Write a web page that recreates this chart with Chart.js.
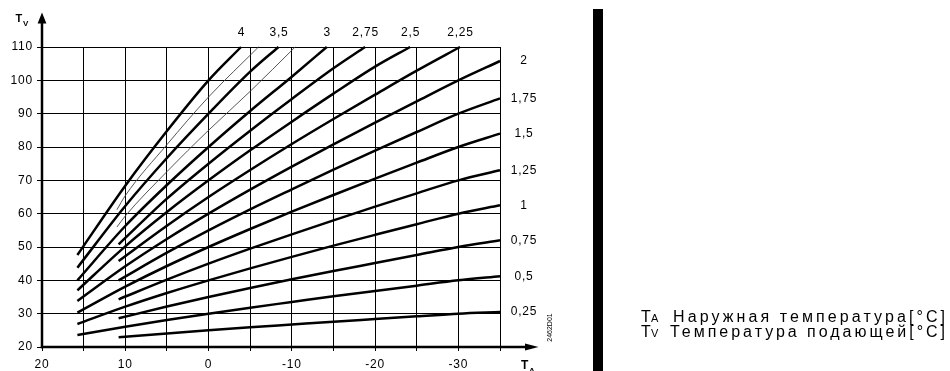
<!DOCTYPE html>
<html><head><meta charset="utf-8">
<script src="https://cdn.jsdelivr.net/npm/chart.js@4.4.1/dist/chart.umd.min.js"></script>
<style>html,body{margin:0;padding:0;background:#fff;}canvas{display:block;}</style>
</head><body>
<canvas id="c" width="950" height="371"></canvas>
<script>
// ---- data (TA [°C], TV [°C]) ----
const X_TICKS = [20, 15, 10, 5, 0, -5, -10, -15, -20, -25, -30, -35];
const X_TICK_LABELS = ["20", "", "10", "", "0", "", "-10", "", "-20", "", "-30", ""];
const Y_TICKS = [20, 30, 40, 50, 60, 70, 80, 90, 100, 110];
const Y_TICK_LABELS = ["20", "30", "40", "50", "60", "70", "80", "90", "100", "110"];

const curve_4   = [[15.75,47.6],[10,68.4],[5,84.8],[0,100],[-3.9,110]];
const curve_375 = [[11.0,61.2],[10,65.4],[5,80.7],[0,95],[-6,110]];
const curve_35  = [[15.75,43.8],[10,62.3],[5,76.7],[0,90],[-5,102.6],[-8.4,110]];
const curve_325 = [[11.0,56],[10,59.3],[5,72.6],[0,85],[-5,96.7],[-10.4,110]];
const curve_3   = [[15.75,40],[10,56.3],[5,68.6],[0,80],[-5,90.8],[-10,101.1],[-14.2,110]];
const curve_275 = [[10.8,50.8],[5,64.5],[0,75],[-5,84.9],[-10,94.4],[-15,103.6],[-18.8,110]];
const curve_25  = [[15.75,37],[10,50.2],[5,60.5],[0,70],[-5,79],[-10,87.6],[-15,96],[-20,104.1],[-24.2,110]];
const curve_225 = [[10.8,45.8],[5,56.4],[0,65],[-5,73.1],[-10,80.9],[-15,88.4],[-20,95.7],[-25,102.9],[-30.2,110]];
const curve_2   = [[15.75,33.8],[10,44.2],[5,52.4],[0,60],[-5,67.2],[-10,74.1],[-15,80.8],[-20,87.3],[-25,93.7],[-30,100],[-35,105.8]];
const curve_175 = [[10.8,40],[5,48.3],[0,55],[-5,61.3],[-10,67.3],[-15,73.2],[-20,78.9],[-25,84.5],[-30,90],[-35,94.6]];
const curve_15  = [[15.75,30.3],[10,38.1],[5,44.3],[0,50],[-5,55.4],[-10,60.6],[-15,65.6],[-20,70.5],[-25,75.3],[-30,80],[-35,84]];
const curve_125 = [[10.8,34.3],[5,40.2],[0,45],[-5,49.5],[-10,53.8],[-15,58],[-20,62.1],[-25,66.1],[-30,70],[-35,73]];
const curve_1   = [[15.75,26.9],[10,32.1],[5,36.2],[0,40],[-5,43.6],[-10,47.05],[-15,50.4],[-20,53.65],[-25,56.85],[-30,60],[-35,62.5]];
const curve_075 = [[10.8,28.6],[5,32.15],[0,35],[-5,37.7],[-10,40.3],[-15,42.8],[-20,45.2],[-25,47.6],[-30,50],[-35,52]];
const curve_05  = [[15.75,23.6],[10,26.05],[5,28.1],[0,30],[-5,31.8],[-10,33.5],[-15,35.2],[-20,36.8],[-25,38.4],[-30,40],[-35,41.2]];
const curve_025 = [[10.8,22.9],[5,24.05],[0,25],[-5,25.9],[-10,26.75],[-15,27.6],[-20,28.4],[-25,29.2],[-30,30],[-35,30.5]];

const CURVES = [curve_4, curve_375, curve_35, curve_325, curve_3, curve_275, curve_25, curve_225,
                curve_2, curve_175, curve_15, curve_125, curve_1, curve_075, curve_05, curve_025];
const CURVE_LABELS = ["4", null, "3,5", null, "3", "2,75", "2,5", "2,25",
                      "2", "1,75", "1,5", "1,25", "1", "0,75", "0,5", "0,25"];
const THIN = [false, true, false, true, false, false, false, false,
              false, false, false, false, false, false, false, false];

const LEGEND_ROWS = [["T", "A", "Наружная температура[°C]"], ["T", "V", "Температура подающей[°C]"]];
const DRAWING_CODE = "2462D01";

// ---- chart ----
const FONT = '"Liberation Sans", Arial, sans-serif';
const datasets = CURVES.map((c, i) => ({
  data: c.map(p => ({x: p[0], y: p[1]})),
  showLine: true,
  borderColor: THIN[i] ? '#444' : '#000',
  borderWidth: THIN[i] ? 0.9 : 2.5,
  pointRadius: 0,
  cubicInterpolationMode: 'monotone',
  clip: false
}));

const overlay = {
  id: 'overlay',
  beforeDraw(chart) { chart.ctx.letterSpacing = '0.8px'; },
  afterDraw(chart) {
    const c = chart.ctx, xs = chart.scales.x, ys = chart.scales.y;
    c.save();
    c.letterSpacing = '0px';
    c.strokeStyle = '#000'; c.fillStyle = '#000';
    const x0 = xs.getPixelForValue(20), y0 = ys.getPixelForValue(20);
    // axes
    c.lineWidth = 2.5;
    c.beginPath(); c.moveTo(x0, y0 + 1.2); c.lineTo(x0, 22); c.stroke();
    c.beginPath(); c.moveTo(x0 - 1.2, y0); c.lineTo(527, y0); c.stroke();
    // arrows
    c.beginPath(); c.moveTo(x0, 12.5); c.lineTo(x0 - 4.4, 23.5); c.lineTo(x0 + 4.4, 23.5); c.closePath(); c.fill();
    c.beginPath(); c.moveTo(538.5, y0); c.lineTo(525, y0 - 3.4); c.lineTo(525, y0 + 3.4); c.closePath(); c.fill();
    // axis titles
    c.textBaseline = 'alphabetic'; c.textAlign = 'left';
    c.font = 'bold 11px ' + FONT; c.fillText('T', 15.5, 21.5);
    c.font = 'bold 8px ' + FONT; c.fillText('V', 23, 26);
    c.font = 'bold 12px ' + FONT; c.fillText('T', 521, 369);
    c.font = 'bold 8px ' + FONT; c.fillText('A', 529, 373);
    // curve labels
    c.font = '12px ' + FONT; c.letterSpacing = '0.8px';
    c.textAlign = 'center'; c.textBaseline = 'middle';
    CURVES.forEach((cv, i) => {
      const lab = CURVE_LABELS[i];
      if (!lab) return;
      const last = cv[cv.length - 1];
      if (last[1] >= 110) {
        c.fillText(lab, xs.getPixelForValue(last[0]) + 0.5, 32.5);
      } else {
        c.fillText(lab, 524, ys.getPixelForValue(last[1]));
      }
    });
    // drawing code, rotated
    c.save();
    c.translate(550.5, 327.5); c.rotate(-Math.PI / 2);
    c.letterSpacing = '0px';
    c.font = '7px ' + FONT; c.textAlign = 'center'; c.textBaseline = 'middle';
    c.fillText(DRAWING_CODE, 0, 0);
    c.restore();
    // black bar
    c.fillRect(593, 9, 10, 362);
    // legend
    c.textAlign = 'left'; c.textBaseline = 'alphabetic';
    const rows = [{y: 321.5, x: 673}, {y: 337.3, x: 670}];
    LEGEND_ROWS.forEach((r, i) => {
      c.letterSpacing = '0px';
      c.font = '16px ' + FONT; c.fillText(r[0], 641, rows[i].y);
      c.font = '11px ' + FONT; c.fillText(r[1], 651, rows[i].y);
      c.font = '16px ' + FONT;
      const w = c.measureText(r[2]).width;
      const sp = Math.max(0, (948 - rows[i].x - w) / r[2].length);
      c.letterSpacing = sp.toFixed(2) + 'px';
      c.fillText(r[2], rows[i].x, rows[i].y);
    });
    c.restore();
  }
};

new Chart(document.getElementById('c'), {
  type: 'scatter',
  data: {datasets},
  options: {
    responsive: false, animation: false, devicePixelRatio: 1,
    layout: {padding: {left: 0, right: 450, top: 47, bottom: 0}},
    plugins: {legend: {display: false}, tooltip: {enabled: false}},
    scales: {
      x: {
        type: 'linear', reverse: true, min: -35, max: 20,
        afterBuildTicks: s => { s.ticks = X_TICKS.map(v => ({value: v})); },
        afterFit: s => { s.height = 24; },
        ticks: {
          autoSkip: false, maxRotation: 0, padding: 6, color: '#000',
          font: {family: FONT, size: 12},
          callback: v => { const k = X_TICKS.indexOf(v); return k >= 0 ? X_TICK_LABELS[k] : ''; }
        },
        grid: {color: '#000', lineWidth: 1, tickLength: 4, drawTicks: true},
        border: {display: false}
      },
      y: {
        type: 'linear', min: 20, max: 110,
        afterBuildTicks: s => { s.ticks = Y_TICKS.map(v => ({value: v})); },
        afterFit: s => { s.width = 42; },
        ticks: {
          autoSkip: false, padding: 4, color: '#000',
          font: {family: FONT, size: 12},
          callback: v => { const k = Y_TICKS.indexOf(v); return k >= 0 ? Y_TICK_LABELS[k] : ''; }
        },
        grid: {color: '#000', lineWidth: 1, tickLength: 5, drawTicks: true},
        border: {display: false}
      }
    }
  },
  plugins: [overlay]
});
</script>
</body></html>
